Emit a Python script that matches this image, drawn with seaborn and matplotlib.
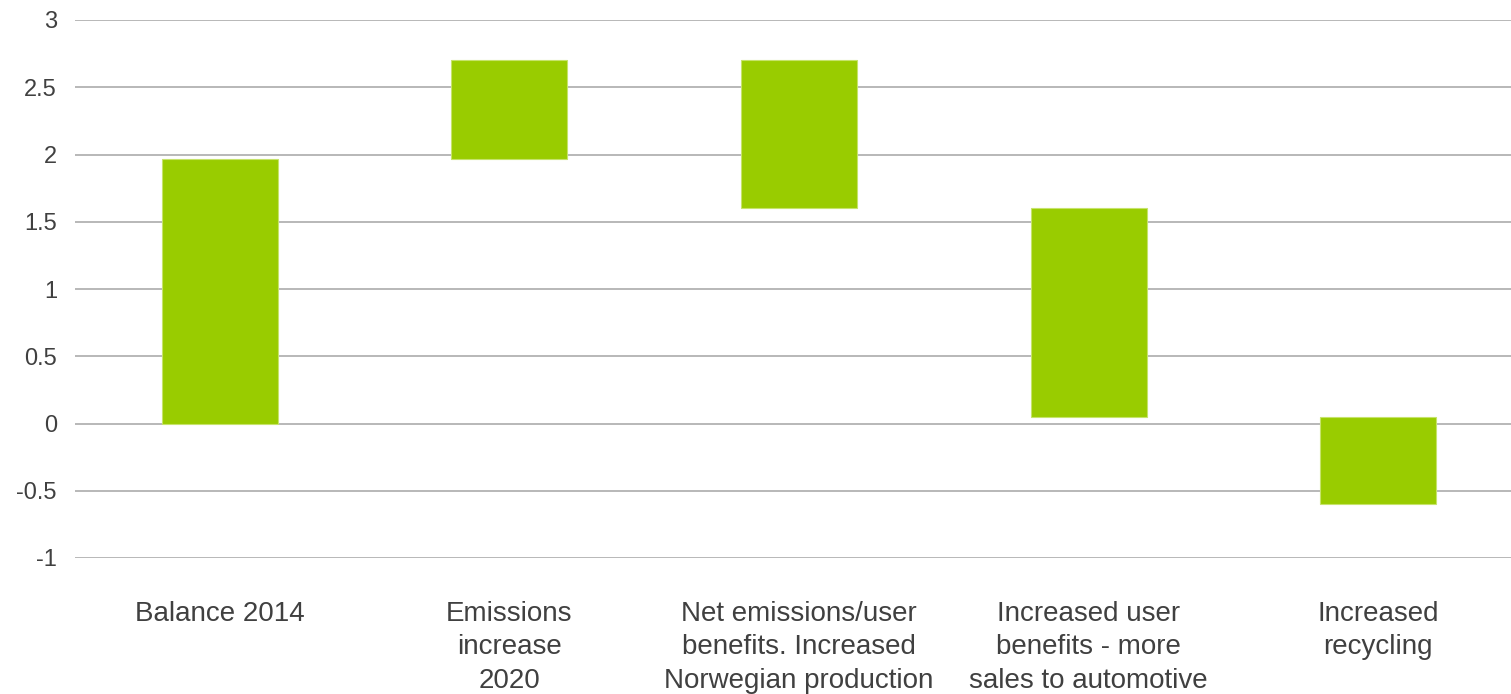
import matplotlib
matplotlib.use("Agg")
import matplotlib.pyplot as plt
import seaborn as sns
import pandas as pd
import numpy as np

categories = [
    "Balance 2014",
    "Emissions\nincrease\n2020",
    "Net emissions/user\nbenefits. Increased\nNorwegian production",
    "Increased user\nbenefits - more\nsales to automotive",
    "Increased\nrecycling",
]
start_values = [0.0, 1.97, 2.70, 1.60, 0.05]
end_values = [1.97, 2.70, 1.60, 0.05, -0.60]

sns.set_theme(style="white")
plt.rcParams['font.family'] = ['Liberation Sans', 'DejaVu Sans']

bottoms = np.minimum(start_values, end_values)
heights = np.abs(np.array(end_values) - np.array(start_values))
df = pd.DataFrame({"category": categories, "height": heights})

fig = plt.figure(figsize=(15.11, 6.94), dpi=100)
ax = fig.add_axes([75 / 1511, 1 - 558 / 694, (1523 - 75) / 1511, (558 - 20) / 694])

sns.barplot(data=df, x="category", y="height", bottom=bottoms, color="#99cc00",
            saturation=1, width=0.4, edgecolor="#c6e36b", linewidth=0.8, ax=ax, zorder=3)

ax.set_ylim(-1, 3)
ax.set_xlim(-0.5, 4.5)
ax.set_yticks([-1, -0.5, 0, 0.5, 1, 1.5, 2, 2.5, 3])
ax.set_yticklabels(["-1", "-0.5", "0", "0.5", "1", "1.5", "2", "2.5", "3"])
ax.yaxis.grid(True, color="#ababab", linewidth=1.2, zorder=0)
ax.set_axisbelow(True)
for s in ax.spines.values():
    s.set_visible(False)
ax.set_xlabel("")
ax.set_ylabel("")
ax.tick_params(axis="y", length=0, pad=13, labelsize=17, labelcolor="#404040")
ax.tick_params(axis="x", length=0, pad=31, labelsize=20, labelcolor="#404040")
for lbl in ax.get_xticklabels():
    lbl.set_linespacing(1.37)
    lbl.set_verticalalignment("top")

fig.savefig("out.png", dpi=100)
